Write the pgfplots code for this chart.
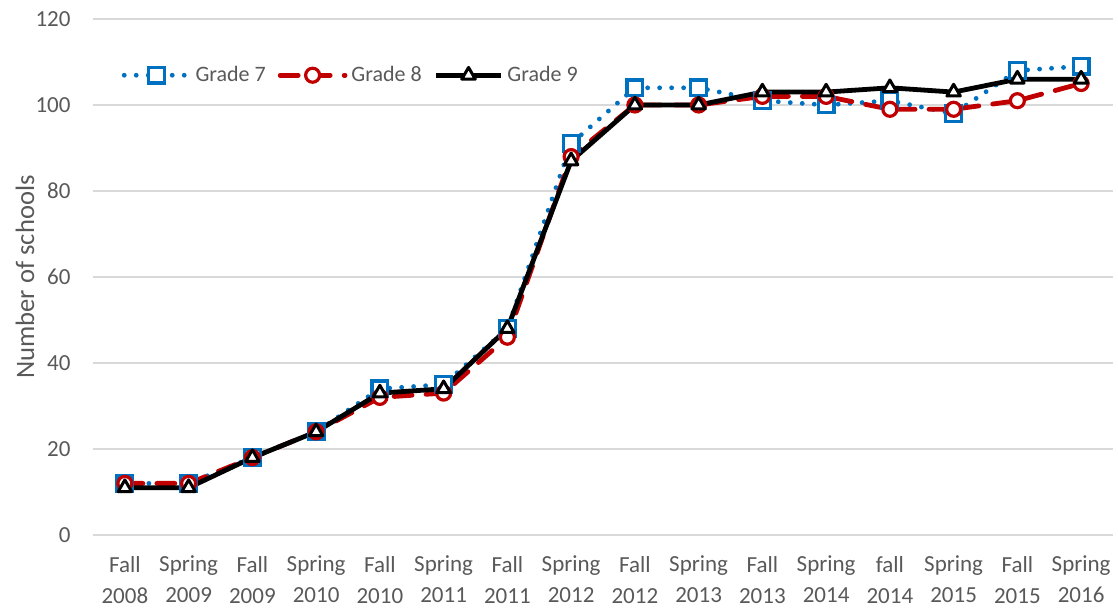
\documentclass[border=0pt]{standalone}
\usepackage{pgfplots}
\pgfplotsset{compat=1.18}
\usepackage{fontspec}
\setmainfont{Carlito}
\definecolor{txt}{HTML}{595959}
\definecolor{gridc}{HTML}{D9D9D9}
\definecolor{gseven}{HTML}{0070C0}
\definecolor{geight}{HTML}{C00000}
\begin{document}
\begin{tikzpicture}
\path[use as bounding box] (-46.5pt,-37.5pt) rectangle (512.5pt,267.5pt);
\begin{axis}[
  at={(0,0)}, anchor=south west,
  scale only axis, width=510pt, height=258pt,
  xmin=-0.5, xmax=15.5, ymin=0, ymax=120,
  ytick={0,20,...,120},
  xtick={0,...,15},
  xticklabels={{Fall\\2008},{Spring\\2009},{Fall\\2009},{Spring\\2010},{Fall\\2010},{Spring\\2011},{Fall\\2011},{Spring\\2012},{Fall\\2012},{Spring\\2013},{Fall\\2013},{Spring\\2014},{fall\\2014},{Spring\\2015},{Fall\\2015},{Spring\\2016}},
  axis line style={draw=none},
  major tick length=0pt,
  ymajorgrids, grid style={gridc, line width=0.9pt},
  tick label style={font=\fontsize{11.5}{15.5}\selectfont, text=txt},
  /pgf/number format/assume math mode=true,
  xticklabel style={align=center, yshift=-7pt},
  yticklabel style={xshift=-7.7pt},
  ylabel={Number of schools},
  ylabel style={at={(axis description cs:0,0.5)}, anchor=center, rotate=0, yshift=34pt, font=\fontsize{13.3}{15}\selectfont, text=txt},
  legend style={at={(rel axis cs:0.022,0.891)}, anchor=west, draw=none, fill=none,
    font=\fontsize{11}{13}\selectfont, text=txt,
    /tikz/every even column/.append style={column sep=4pt}},
  legend columns=3,
  legend image code/.code={\draw[mark repeat=2,mark phase=2,#1] plot coordinates {(0cm,0cm) (0.57cm,0cm) (1.14cm,0cm)};},
]
\addplot[gseven, line width=2.4pt, line cap=round, dash pattern=on 0pt off 6pt,
  mark=square*, mark size=3.9pt, mark options={solid, fill=white, line width=1.6pt}]
  coordinates {(0,12)(1,12)(2,18)(3,24)(4,34)(5,35)(6,48)(7,91)(8,104)(9,104)(10,101)(11,100)(12,101)(13,98)(14,108)(15,109)};
\addlegendentry{Grade 7}
\addplot[geight, line width=2.4pt, line cap=round, dash pattern=on 9pt off 7pt,
  mark=*, mark size=3.5pt, mark options={solid, fill=white, line width=1.6pt}]
  coordinates {(0,12)(1,12)(2,18)(3,24)(4,32)(5,33)(6,46)(7,88)(8,100)(9,100)(10,102)(11,102)(12,99)(13,99)(14,101)(15,105)};
\addlegendentry{Grade 8}
\addplot[black, line width=2.4pt, line join=round,
  mark=triangle*, mark size=3.9pt, mark options={solid, fill=white, line width=1.5pt}]
  coordinates {(0,11)(1,11)(2,18)(3,24)(4,33)(5,34)(6,48)(7,87)(8,100)(9,100)(10,103)(11,103)(12,104)(13,103)(14,106)(15,106)};
\addlegendentry{Grade 9}
\end{axis}
\end{tikzpicture}
\end{document}
